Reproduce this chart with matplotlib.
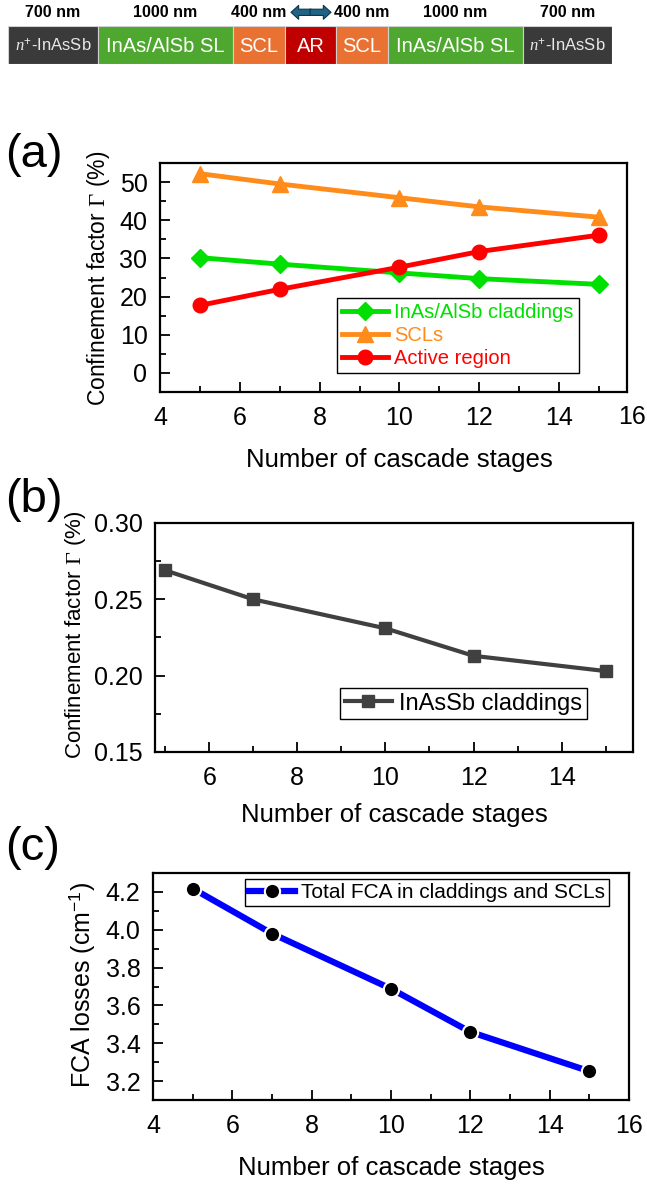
import matplotlib
matplotlib.use("Agg")
import matplotlib.pyplot as plt
from matplotlib.ticker import MultipleLocator

plt.rcParams['font.family'] = ['Liberation Sans', 'DejaVu Sans']
plt.rcParams['mathtext.fontset'] = 'custom'
plt.rcParams['mathtext.rm'] = 'Liberation Sans'
plt.rcParams['mathtext.it'] = 'Liberation Serif:italic'
plt.rcParams['mathtext.sf'] = 'Liberation Serif'

# layer stack
layer_names = [r'$\mathit{n}^{+}$-InAsSb', 'InAs/AlSb SL', 'SCL', 'AR', 'SCL', 'InAs/AlSb SL', r'$\mathit{n}^{+}$-InAsSb']
layer_thick = ['700 nm', '1000 nm', '400 nm', '', '400 nm', '1000 nm', '700 nm']
layer_colors = ['#3a3a3a', '#4ea72e', '#e97132', '#c00000', '#e97132', '#4ea72e', '#3a3a3a']

# panel (a)
stages = [5, 7, 10, 12, 15]
clad_sl = [30.2, 28.5, 26.2, 24.7, 23.2]
scl = [52.2, 49.5, 45.9, 43.5, 40.8]
active = [17.7, 21.9, 27.7, 31.8, 36.1]

# panel (b)
clad_insb = [0.269, 0.250, 0.231, 0.213, 0.203]

# panel (c)
fca = [4.218, 3.980, 3.688, 3.460, 3.252]

W, H = 647, 1184
fig = plt.figure(figsize=(W / 100, H / 100), dpi=100)


def px_axes(l, t, r, b):
    return fig.add_axes([l / W, 1 - b / H, (r - l) / W, (b - t) / H])


def style(ax):
    ax.tick_params(which='both', direction='in', top=False, right=False, labelsize=18, width=1.3)
    ax.tick_params(which='major', length=7)
    ax.tick_params(which='minor', length=4)
    ax.tick_params(axis='y', pad=9)
    ax.tick_params(axis='x', pad=10)
    for s in ax.spines.values():
        s.set_linewidth(1.6)


# ---- layer bar ----
ax0 = px_axes(8, 26, 612, 64)
seg_w = [90, 135, 52, 51, 52, 135, 89]
lefts = [sum(seg_w[:i]) for i in range(len(seg_w))]
ax0.barh(0.5, seg_w, left=lefts, height=1, color=layer_colors, edgecolor='#d0d0d0', linewidth=0.8)
ax0.set_xlim(0, sum(seg_w))
ax0.set_ylim(0, 1)
ax0.axis('off')
for i, name in enumerate(layer_names):
    cx = lefts[i] + seg_w[i] / 2
    fs = 12 if 'InAsSb' in name else 14.5
    col = '#e8e8e8' if 'InAsSb' in name else 'white'
    ax0.text(cx, 0.47, name, ha='center', va='center', color=col, fontsize=fs)
    if layer_thick[i]:
        ax0.text(cx, 1.36, layer_thick[i], ha='center', va='center', fontsize=11.5, fontweight='bold')
arrow_kw = dict(arrowstyle='simple,head_length=0.55,head_width=1.0,tail_width=0.45',
                fc='#1f6385', ec='#0d3447', lw=0.8, shrinkA=0, shrinkB=0)
ax0.annotate('', xy=(283, 1.36), xytext=(303, 1.36), arrowprops=arrow_kw, annotation_clip=False)
ax0.annotate('', xy=(323, 1.36), xytext=(302, 1.36), arrowprops=arrow_kw, annotation_clip=False)

# ---- (a) ----
ax1 = px_axes(160, 163, 627, 392)
ax1.plot(stages, clad_sl, color='#00e000', marker='D', ms=9, lw=3.5, label='InAs/AlSb claddings')
ax1.plot(stages, scl, color='#ff8c1a', marker='^', ms=11, lw=3.5, label='SCLs')
ax1.plot(stages, active, color='#ff0000', marker='o', ms=10.5, lw=3.5, label='Active region')
ax1.set_xlim(4, 15.7)
ax1.set_ylim(-5, 55)
ax1.set_xticks([4, 6, 8, 10, 12, 14])
ax1.xaxis.set_minor_locator(MultipleLocator(1))
ax1.set_yticks([0, 10, 20, 30, 40, 50])
ax1.yaxis.set_minor_locator(MultipleLocator(5))
style(ax1)
# last tick label sits past the right spine, squeezed in against the figure edge
fig.text(646 / W, 1 - 417 / H, '16', ha='right', va='center', fontsize=18)
leg = ax1.legend(loc='upper left', bbox_to_anchor=((337 - 160) / 467, (392 - 298) / 229),
                 borderaxespad=0, fontsize=14.5, labelcolor='linecolor', fancybox=False,
                 edgecolor='black', framealpha=1, handlelength=2.3, handletextpad=0.3,
                 borderpad=0.25, labelspacing=0.2)
leg.get_frame().set_linewidth(1.0)
fig.text(99 / W, 1 - 278 / H, r'Confinement factor $\mathsf{\Gamma}$ (%)', rotation=90,
         ha='center', va='center', fontsize=16.5)
fig.text(399 / W, 1 - 460 / H, 'Number of cascade stages', ha='center', va='center', fontsize=18.5)
fig.text(5 / W, 1 - 155 / H, '(a)', ha='left', va='center', fontsize=34)

# ---- (b) ----
ax2 = px_axes(155, 523, 633, 752)
ax2.plot(stages, clad_insb, color='#404040', marker='s', ms=9, lw=3, label='InAsSb claddings')
ax2.set_xlim(4.77, 15.62)
ax2.set_ylim(0.15, 0.30)
ax2.set_xticks([6, 8, 10, 12, 14])
ax2.xaxis.set_minor_locator(MultipleLocator(1))
ax2.set_yticks([0.15, 0.20, 0.25, 0.30])
ax2.set_yticklabels(['0.15', '0.20', '0.25', '0.30'])
ax2.yaxis.set_minor_locator(MultipleLocator(0.025))
style(ax2)
leg = ax2.legend(loc='upper left', bbox_to_anchor=((340 - 155) / 478, (752 - 688) / 229),
                 borderaxespad=0, fontsize=17, fancybox=False, edgecolor='black', framealpha=1,
                 handlelength=2.0, handletextpad=0.3, borderpad=0.2)
leg.get_frame().set_linewidth(1.0)
fig.text(76 / W, 1 - 635 / H, r'Confinement factor $\mathsf{\Gamma}$ (%)', rotation=90,
         ha='center', va='center', fontsize=16)
fig.text(394 / W, 1 - 815 / H, 'Number of cascade stages', ha='center', va='center', fontsize=18.5)
fig.text(5 / W, 1 - 500 / H, '(b)', ha='left', va='center', fontsize=34)

# ---- (c) ----
ax3 = px_axes(153, 873, 629, 1100)
ax3.plot(stages, fca, color='#0000ff', lw=4.5, marker='o', ms=11, mfc='black', mec='white',
         mew=1.5, label='Total FCA in claddings and SCLs')
ax3.set_xlim(4, 16)
ax3.set_ylim(3.1, 4.3)
ax3.set_xticks([4, 6, 8, 10, 12, 14, 16])
ax3.xaxis.set_minor_locator(MultipleLocator(1))
ax3.set_yticks([3.2, 3.4, 3.6, 3.8, 4.0, 4.2])
ax3.yaxis.set_minor_locator(MultipleLocator(0.1))
style(ax3)
leg = ax3.legend(loc='upper left', bbox_to_anchor=((245 - 153) / 476, (1100 - 879) / 227),
                 borderaxespad=0, fontsize=15, fancybox=False, edgecolor='black', framealpha=1,
                 handlelength=2.2, handletextpad=0.3, borderpad=0.2)
leg.get_frame().set_linewidth(1.0)
fig.text(82 / W, 1 - 985 / H, r'FCA losses (cm$^{-1}$)', rotation=90,
         ha='center', va='center', fontsize=18)
fig.text(391 / W, 1 - 1168 / H, 'Number of cascade stages', ha='center', va='center', fontsize=18.5)
fig.text(5 / W, 1 - 848 / H, '(c)', ha='left', va='center', fontsize=34)

fig.savefig('out.png', dpi=100)
